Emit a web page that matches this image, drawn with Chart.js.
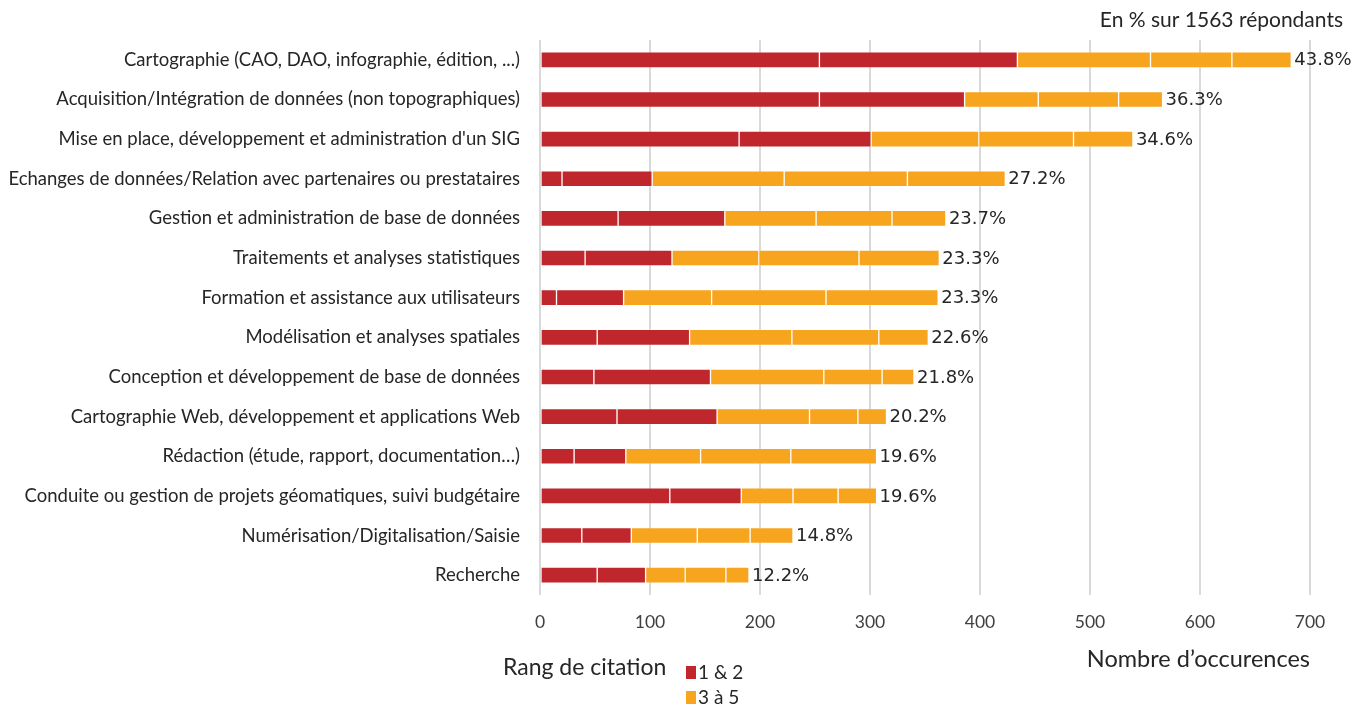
<!DOCTYPE html>
<html>
<head>
<meta charset="utf-8">
<script src="https://cdn.jsdelivr.net/npm/chart.js@4.4.0/dist/chart.umd.min.js"></script>
<style>
    body { margin: 0; background: #fff; }
    #wrap { width: 1362px; height: 709px; position: relative; }
</style>
</head>
<body>
<div id="wrap"><canvas id="chart_tasks" width="1362" height="709"></canvas></div>
<script>
var categories = [
    'Cartographie (CAO, DAO, infographie, édition, ...)',
    'Acquisition/Intégration de données (non topographiques)',
    "Mise en place, développement et administration d'un SIG",
    'Echanges de données/Relation avec partenaires ou prestataires',
    'Gestion et administration de base de données',
    'Traitements et analyses statistiques',
    'Formation et assistance aux utilisateurs',
    'Modélisation et analyses spatiales',
    'Conception et développement de base de données',
    'Cartographie Web, développement et applications Web',
    'Rédaction (étude, rapport, documentation…)',
    'Conduite ou gestion de projets géomatiques, suivi budgétaire',
    'Numérisation/Digitalisation/Saisie',
    'Recherche'
];

// occurrences per citation rank (1 & 2 red, 3 to 5 orange)
var rank1 = [254, 254, 181, 20, 71, 41, 15, 52, 49, 70, 31, 118, 38, 52];
var rank2 = [180, 132, 120, 82, 97, 79, 61, 84, 106, 91, 47, 65, 45, 44];
var rank3 = [121, 67, 98, 120, 83, 79, 80, 93, 103, 84, 68, 47, 60, 36];
var rank4 = [74, 73, 86, 112, 69, 91, 104, 79, 53, 44, 82, 41, 48, 37];
var rank5 = [54, 40, 54, 89, 49, 73, 102, 45, 29, 26, 78, 35, 39, 21];

var percentLabels = ['43.8%', '36.3%', '34.6%', '27.2%', '23.7%', '23.3%', '23.3%',
    '22.6%', '21.8%', '20.2%', '19.6%', '19.6%', '14.8%', '12.2%'];

var xTicks = [0, 100, 200, 300, 400, 500, 600, 700];

var RED = '#C0272D';
var ORANGE = '#F7A41E';
var LABEL_FONT = 'Lato';

function makeSet(label, data, color) {
    return {
        label: label,
        data: data,
        backgroundColor: color,
        borderColor: 'rgba(255,255,255,0.16)',
        borderWidth: 1,
        borderSkipped: false,
        barThickness: 16
    };
}

var extrasPlugin = {
    id: 'extras',
    afterDatasetsDraw: function (chart) {
        var ctx = chart.ctx;
        var meta = chart.getDatasetMeta(chart.data.datasets.length - 1);
        ctx.save();
        ctx.font = '18px "DejaVu Sans"';
        ctx.fillStyle = '#262626';
        ctx.textAlign = 'left';
        ctx.textBaseline = 'middle';
        meta.data.forEach(function (bar, i) {
            ctx.fillText(percentLabels[i], bar.x + 3, bar.y + 1);
        });
        ctx.restore();
    },
    afterDraw: function (chart) {
        var ctx = chart.ctx;
        ctx.save();
        ctx.fillStyle = '#262626';
        ctx.textBaseline = 'middle';

        // note top right
        ctx.font = '21px ' + LABEL_FONT;
        ctx.textAlign = 'right';
        ctx.fillText('En % sur 1563 répondants', 1343, 20);

        // legend
        ctx.textAlign = 'left';
        ctx.font = '23px ' + LABEL_FONT;
        ctx.fillText('Rang de citation', 503, 668);
        ctx.fillStyle = RED;
        ctx.fillRect(686, 666, 10, 13);
        ctx.fillStyle = ORANGE;
        ctx.fillRect(686, 691, 10, 13);
        ctx.fillStyle = '#262626';
        ctx.font = '19px ' + LABEL_FONT;
        ctx.fillText('1 & 2', 698, 673);
        ctx.fillText('3 à 5', 698, 698);
        ctx.restore();
    }
};

var chart = new Chart(document.getElementById('chart_tasks'), {
    type: 'bar',
    data: {
        labels: categories,
        datasets: [
            makeSet('1', rank1, RED),
            makeSet('2', rank2, RED),
            makeSet('3', rank3, ORANGE),
            makeSet('4', rank4, ORANGE),
            makeSet('5', rank5, ORANGE)
        ]
    },
    options: {
        indexAxis: 'y',
        responsive: false,
        animation: false,
        layout: {
            padding: { top: 40, right: 52, left: 0, bottom: 0 }
        },
        plugins: {
            legend: { display: false },
            tooltip: { enabled: false }
        },
        scales: {
            x: {
                stacked: true,
                min: 0,
                max: 700,
                afterBuildTicks: function (scale) {
                    scale.ticks = xTicks.map(function (v) { return { value: v }; });
                },
                afterFit: function (scale) {
                    scale.height = 114;
                },
                grid: {
                    color: '#d9d9d9',
                    lineWidth: 2,
                    drawTicks: false
                },
                border: { display: false },
                ticks: {
                    padding: 17,
                    color: '#404040',
                    font: { family: LABEL_FONT, size: 17.5 }
                },
                title: {
                    display: true,
                    text: 'Nombre d’occurences',
                    align: 'end',
                    color: '#262626',
                    font: { family: LABEL_FONT, size: 23.5 },
                    padding: { top: 0, bottom: 35 }
                }
            },
            y: {
                stacked: true,
                afterFit: function (scale) {
                    scale.width = 540;
                },
                grid: { display: false, drawTicks: false },
                border: { display: false },
                ticks: {
                    padding: 20,
                    color: '#262626',
                    autoSkip: false,
                    font: { family: LABEL_FONT, size: 18.5 }
                }
            }
        }
    },
    plugins: [extrasPlugin]
});
</script>
</body>
</html>
